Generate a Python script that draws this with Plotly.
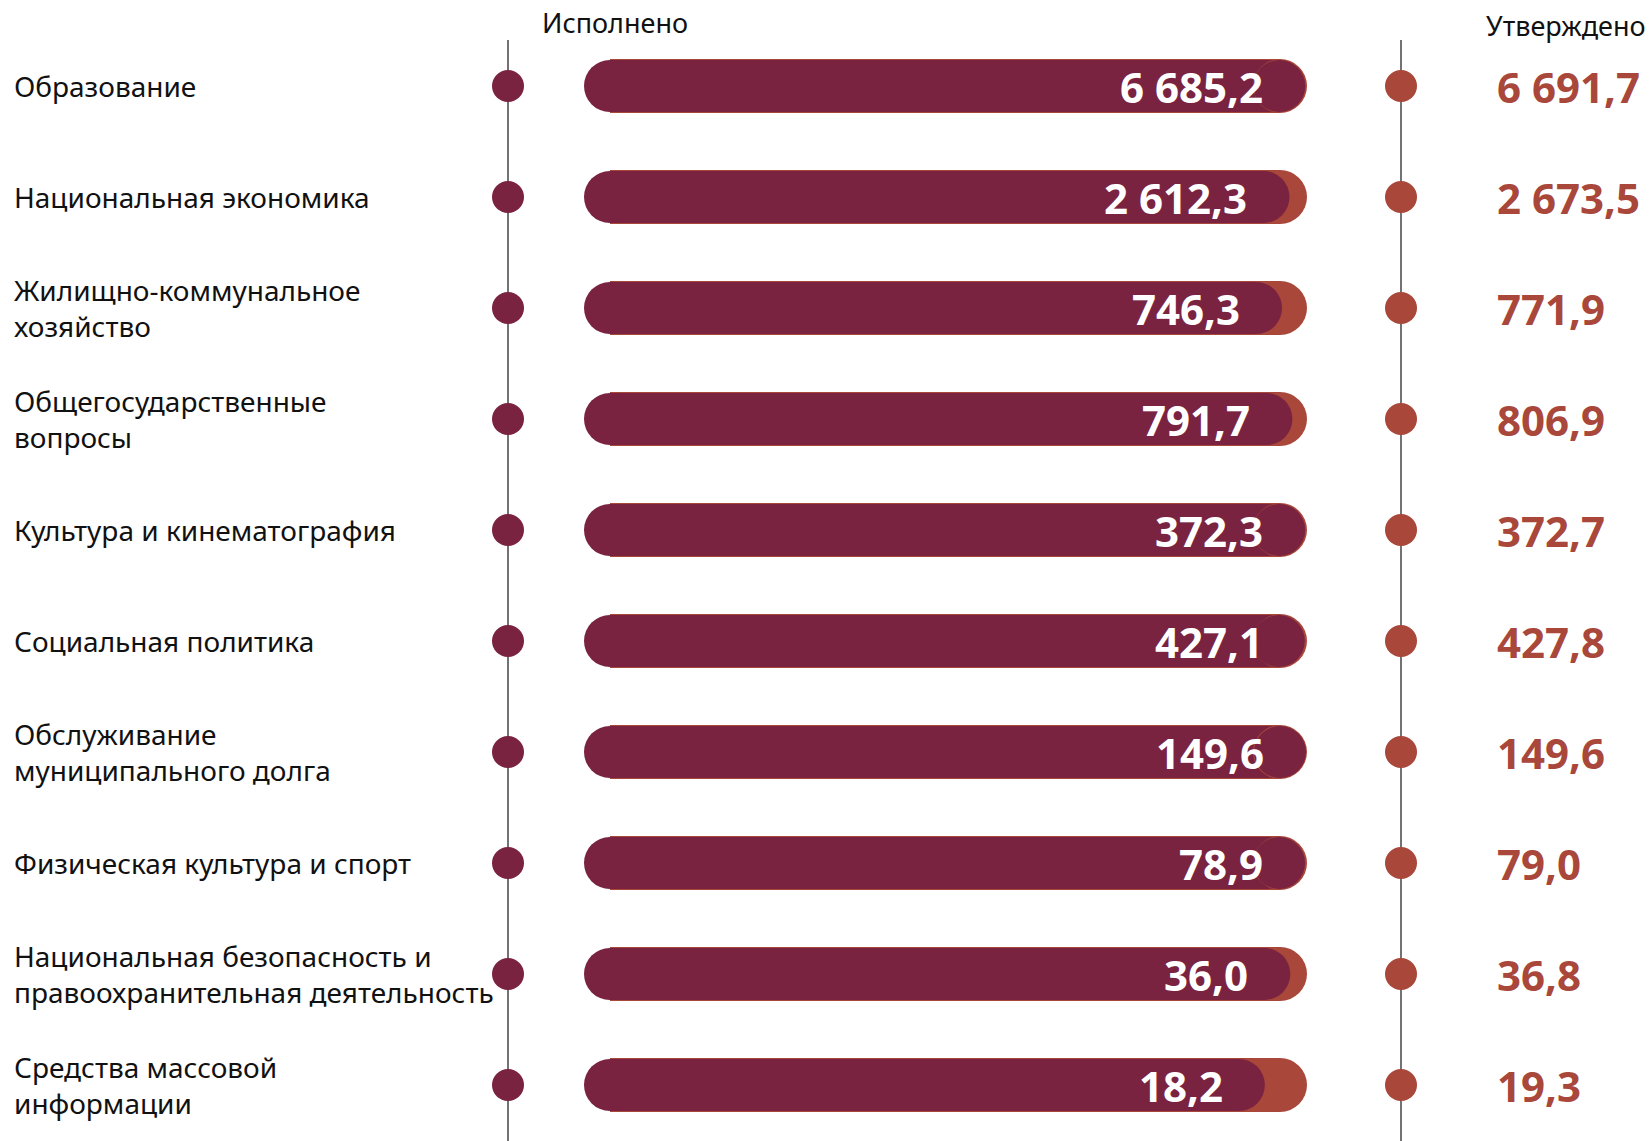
import plotly.graph_objects as go

categories = [
    "Образование",
    "Национальная экономика",
    "Жилищно-коммунальное<br>хозяйство",
    "Общегосударственные<br>вопросы",
    "Культура и кинематография",
    "Социальная политика",
    "Обслуживание<br>муниципального долга",
    "Физическая культура и спорт",
    "Национальная безопасность и<br>правоохранительная деятельность",
    "Средства массовой<br>информации",
]
executed = [6685.2, 2612.3, 746.3, 791.7, 372.3, 427.1, 149.6, 78.9, 36.0, 18.2]
approved = [6691.7, 2673.5, 771.9, 806.9, 372.7, 427.8, 149.6, 79.0, 36.8, 19.3]

DARK = "#7A2340"
LIGHT = "#A8473A"
FONT = "Noto Sans"

W, H = 1651, 1141
n = len(categories)


def fmt(v):
    return f"{v:,.1f}".replace(",", " ").replace(".", ",")


pct_exec = [e / a * 100 for e, a in zip(executed, approved)]
pct_appr = [100.0 for _ in approved]

# x axis: 0 -> left edge of bars, 100 -> right edge of the approved bar
px0, px100 = 584, 1306
k = (px100 - px0) / 100.0
xr = [-px0 / k, (W - px0) / k]


def xval(px):
    return (px - px0) / k


# y axis (category rows)
row_top, row_step = 86, 111
yr = [(H - row_top) / row_step, -row_top / row_step]

bar_h = 52
r_u = (bar_h / 2) / k          # cap radius in x units
bw = bar_h / row_step
bw_light = (bar_h + 2) / row_step

fig = go.Figure()

# approved (background) bar with rounded end
fig.add_trace(go.Bar(
    x=[v - 2 * r_u for v in pct_appr], base=r_u, y=categories, orientation="h",
    width=bw_light, marker=dict(color=LIGHT, line=dict(width=0)),
    hoverinfo="skip", showlegend=False,
))
fig.add_trace(go.Scatter(
    x=[v - r_u for v in pct_appr], y=categories, mode="markers",
    marker=dict(color=LIGHT, size=bar_h + 2, line=dict(width=0)),
    hoverinfo="skip", showlegend=False,
))
# executed (foreground) bar
fig.add_trace(go.Bar(
    x=[v - 2 * r_u for v in pct_exec], base=r_u, y=categories, orientation="h",
    width=bw, marker=dict(color=DARK, line=dict(width=0)),
    hoverinfo="skip", showlegend=False,
))
fig.add_trace(go.Scatter(
    x=[r_u] * n + [v - r_u for v in pct_exec], y=categories + categories,
    mode="markers",
    marker=dict(color=DARK, size=bar_h, line=dict(width=0)),
    hoverinfo="skip", showlegend=False,
))
# column dots
fig.add_trace(go.Scatter(
    x=[xval(508)] * n, y=categories, mode="markers",
    marker=dict(color=DARK, size=32, line=dict(width=0)),
    hoverinfo="skip", showlegend=False,
))
fig.add_trace(go.Scatter(
    x=[xval(1401)] * n, y=categories, mode="markers",
    marker=dict(color=LIGHT, size=32, line=dict(width=0)),
    hoverinfo="skip", showlegend=False,
))

annotations = []
for cat, e, a, p in zip(categories, executed, approved, pct_exec):
    annotations.append(dict(
        x=12 / W, xref="paper", y=cat, yref="y", text=cat,
        xanchor="left", yanchor="middle", align="left", showarrow=False,
        font=dict(family=FONT, size=28, color="#111111"),
    ))
    annotations.append(dict(
        x=p, xref="x", y=cat, yref="y", text=f"<b>{fmt(e)}</b>",
        xanchor="right", yanchor="middle", showarrow=False, xshift=-40,
        font=dict(family=FONT, size=42, color="white"),
    ))
    annotations.append(dict(
        x=1495 / W, xref="paper", y=cat, yref="y", text=f"<b>{fmt(a)}</b>",
        xanchor="left", yanchor="middle", showarrow=False,
        font=dict(family=FONT, size=42, color=LIGHT),
    ))

annotations.append(dict(
    x=540 / W, xref="paper", y=1 - 23 / H, yref="paper", text="Исполнено",
    xanchor="left", yanchor="middle", showarrow=False,
    font=dict(family=FONT, size=27, color="#111111"),
))
annotations.append(dict(
    x=1648 / W, xref="paper", y=1 - 26 / H, yref="paper", text="Утверждено",
    xanchor="right", yanchor="middle", showarrow=False,
    font=dict(family=FONT, size=27, color="#111111"),
))

shapes = []
for px in (508, 1401):
    shapes.append(dict(
        type="line", xref="x", yref="paper", x0=xval(px), x1=xval(px),
        y0=0, y1=1 - 40 / H, line=dict(color="#444444", width=1.5), layer="below",
    ))

fig.update_layout(
    width=W, height=H,
    margin=dict(l=0, r=0, t=0, b=0),
    paper_bgcolor="white", plot_bgcolor="white",
    barmode="overlay",
    xaxis=dict(range=xr, visible=False, fixedrange=True),
    yaxis=dict(range=yr, visible=False, type="category", categoryorder="array",
               categoryarray=categories, fixedrange=True),
    annotations=annotations, shapes=shapes,
    showlegend=False,
)

fig.write_html(
    "out.html",
    config={"displayModeBar": False},
    post_script="document.body.style.margin='0px';document.body.style.overflow='hidden';",
)
